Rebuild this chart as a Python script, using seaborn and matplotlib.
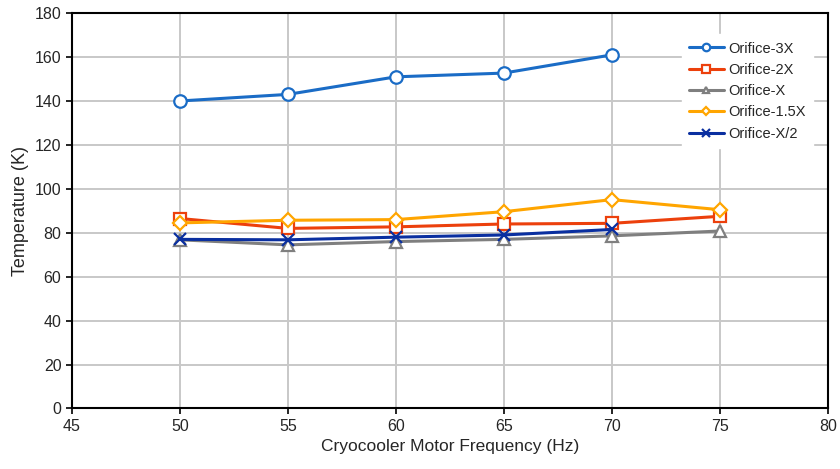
import matplotlib
matplotlib.use('Agg')
import matplotlib.pyplot as plt
import pandas as pd
import seaborn as sns

sns.set_style("white")
plt.rcParams['font.family'] = ['Liberation Sans', 'DejaVu Sans']

freq = [50, 55, 60, 65, 70, 75]
orifice_3x = [140, 143, 151, 152.7, 161]
orifice_2x = [86.5, 82, 82.7, 84, 84.3, 87.5]
orifice_x = [76.8, 74.5, 76, 77, 78.6, 80.8]
orifice_15x = [84.5, 85.7, 86, 89.6, 95.1, 90.5]
orifice_x2 = [77, 76.8, 78, 79, 81.5]

series = [
    ('Orifice-3X', orifice_3x, '#1A6CC6', 'o', 'white', 9),
    ('Orifice-2X', orifice_2x, '#EC400C', 's', 'white', 9),
    ('Orifice-X', orifice_x, '#7F7F7F', '^', 'white', 8),
    ('Orifice-1.5X', orifice_15x, '#FFA500', 'D', 'white', 7),
    ('Orifice-X/2', orifice_x2, '#0A2FA0', 'x', '#0A2FA0', 9),
]

fig = plt.figure(figsize=(8.4, 4.69), dpi=100)
ax = fig.add_axes([0.0855, 0.129, 0.9, 0.843])

for name, vals, col, mk, face, ms in series:
    df = pd.DataFrame({'freq': freq[:len(vals)], 'temp': vals})
    sns.lineplot(data=df, x='freq', y='temp', ax=ax, color=col, linewidth=2.2,
                 marker=mk, markersize=ms, markerfacecolor=face,
                 markeredgecolor=col, markeredgewidth=1.6, label=name)

ax.set_xlim(45, 80)
ax.set_ylim(0, 180)
ax.set_xticks(range(45, 81, 5))
ax.set_yticks(range(0, 181, 20))
ax.grid(True, color='#C8C8C8', linewidth=1.4)
ax.set_axisbelow(True)
for s in ax.spines.values():
    s.set_color('black')
    s.set_linewidth(1.5)
ax.tick_params(axis='both', direction='out', length=4, width=1.2,
               labelsize=11.5, color='black', left=True, bottom=True)
ax.set_xlabel('Cryocooler Motor Frequency (Hz)', fontsize=12.5)
ax.set_ylabel('Temperature (K)', fontsize=13)

leg = ax.legend(loc='upper right', bbox_to_anchor=(0.99, 0.965), frameon=True,
                fontsize=10.5, markerscale=0.6, handlelength=2.4,
                labelspacing=0.5, handletextpad=0.3, borderpad=0.5)
leg.get_frame().set_edgecolor('white')
leg.get_frame().set_facecolor('white')
leg.get_frame().set_alpha(1)

plt.savefig('out.png', dpi=100)
